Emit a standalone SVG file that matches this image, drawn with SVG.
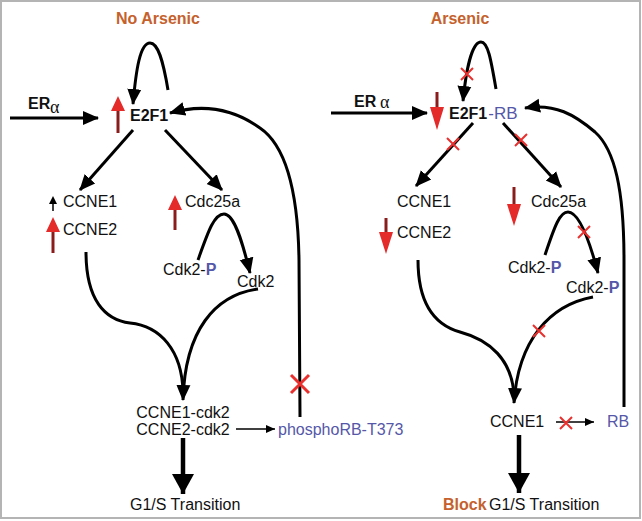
<svg xmlns="http://www.w3.org/2000/svg" width="642" height="521" viewBox="0 0 642 521">
<defs>
<style>
.t{font-family:"Liberation Sans",Arial,sans-serif;font-size:16px;fill:#111}
.b{font-weight:bold}
.o{fill:#c5612c;font-weight:bold}
.bl{fill:#5557a8}
.al{font-family:"Liberation Serif","Times New Roman",serif;font-size:18px;fill:#111}
.c{fill:none;stroke:#000;stroke-width:3}
.thin{fill:none;stroke:#000;stroke-width:1.6}
.thick{fill:none;stroke:#000;stroke-width:4.5}
.x{stroke:#e8312f;stroke-width:2;fill:none}
.sh{stroke:#8b1c1c;stroke-width:3}
.hd{fill:#e52a2a}
</style>
<marker id="ah" markerUnits="userSpaceOnUse" markerWidth="16" markerHeight="16" refX="15" refY="8" orient="auto" viewBox="0 0 16 16">
<path d="M0,1 L16,8 L0,15 Z" fill="#000"/>
</marker>
<marker id="sm" markerUnits="userSpaceOnUse" markerWidth="9" markerHeight="8" refX="9" refY="4" orient="auto" viewBox="0 0 9 8">
<path d="M0,0 L9,4 L0,8 Z" fill="#000"/>
</marker>
<marker id="big" markerUnits="userSpaceOnUse" markerWidth="20" markerHeight="22" refX="20" refY="11" orient="auto" viewBox="0 0 20 22">
<path d="M0,0 L20,11 L0,22 Z" fill="#000"/>
</marker>
</defs>
<rect x="1" y="1" width="639" height="517" fill="#fff" stroke="#b4b4b4" stroke-width="2"/>

<g id="connectors">
<!-- left -->
<path class="c" d="M168,90 C163,60 158,43 150,43 C140,43 136,70 133,104" marker-end="url(#ah)"/>
<path class="c" d="M10,118 L98,118" marker-end="url(#ah)"/>
<path class="c" d="M300,417 L299,260 C298,190 285,145 260,128 C235,110 205,103 170,113" marker-end="url(#ah)"/>
<path class="c" d="M133,130 L80,190" marker-end="url(#ah)"/>
<path class="c" d="M165,130 L222,190" marker-end="url(#ah)"/>
<path class="c" d="M198,260 C208,232 214,214 224,214 C234,214 242,240 250,273" marker-end="url(#ah)"/>
<path class="c" d="M86,252 C86,300 105,320 130,323 C160,326 182,350 183,392"/>
<path class="c" d="M258,289 C215,295 185,330 183,400" marker-end="url(#ah)"/>
<path class="thin" d="M236,429 L275,429" marker-end="url(#sm)"/>
<path class="thick" d="M183,438 L183,494" marker-end="url(#big)"/>
<!-- right -->
<path class="c" d="M496,89 C491,60 488,42 481,42 C472,42 466,70 463,101" marker-end="url(#ah)"/>
<path class="c" d="M331,113 L427,113" marker-end="url(#ah)"/>
<path class="c" d="M624,407 L624,260 C624,190 615,150 595,132 C575,115 555,103 525,108" marker-end="url(#ah)"/>
<path class="c" d="M473,123 L416,186" marker-end="url(#ah)"/>
<path class="c" d="M503,123 L561,187" marker-end="url(#ah)"/>
<path class="c" d="M545,255 C555,225 560,212 568,212 C578,212 588,235 598,273" marker-end="url(#ah)"/>
<path class="c" d="M418,260 C418,305 435,325 460,332 C490,340 512,360 514,395"/>
<path class="c" d="M593,297 C550,305 518,340 514,403" marker-end="url(#ah)"/>
<path class="thin" d="M556,422 L594,422" marker-end="url(#sm)"/>
<path class="thick" d="M519,435 L519,493" marker-end="url(#big)"/>
<!-- red X marks -->
<path class="x" style="stroke-width:3" d="M291,375 L309,393 M309,375 L291,393"/>
<path class="x" d="M461,68 L473,80 M473,68 L461,80"/>
<path class="x" d="M447,138 L459,150 M459,138 L447,150"/>
<path class="x" d="M515,134 L527,146 M527,134 L515,146"/>
<path class="x" d="M578,226 L590,238 M590,226 L578,238"/>
<path class="x" d="M533,325 L545,337 M545,325 L533,337"/>
<path class="x" d="M560,417 L572,429 M572,417 L560,429"/>
</g>

<g id="title-left"><text class="t o" x="158" y="24" text-anchor="middle">No Arsenic</text></g>
<g id="title-right"><text class="t o" x="460" y="24" text-anchor="middle">Arsenic</text></g>

<g id="era-left"><text class="t b" x="28" y="109" font-size="15">ER</text><text class="al" x="50" y="113">α</text></g>
<g id="era-right"><text class="t b" x="354" y="107" font-size="15">ER</text><text class="al" x="380" y="108">α</text></g>

<g id="e2f1-left">
<line class="sh" x1="118" y1="109" x2="118" y2="133"/>
<polygon class="hd" points="111,111 118,96 125,111"/>
<text class="t b" x="130" y="121">E2F1</text>
</g>
<g id="e2f1-rb-right">
<line class="sh" x1="437" y1="92" x2="437" y2="109"/>
<polygon class="hd" points="430,107 437,130 444,107"/>
<text class="t b" x="449" y="119">E2F1<tspan class="bl" style="font-weight:normal;font-size:17px" dx="1">-RB</tspan></text>
</g>

<g id="ccne1-left">
<line x1="53" y1="202" x2="53" y2="211" stroke="#000" stroke-width="1.5"/>
<polygon points="49,204 53,196 57,204" fill="#000"/>
<text class="t" x="63" y="207">CCNE1</text>
</g>
<g id="ccne2-left">
<line class="sh" x1="53" y1="230" x2="53" y2="253"/>
<polygon class="hd" points="46,232 53,217 60,232"/>
<text class="t" x="63" y="235">CCNE2</text>
</g>
<g id="cdc25a-left">
<line class="sh" x1="175" y1="208" x2="175" y2="230"/>
<polygon class="hd" points="168,210 175,195 182,210"/>
<text class="t" x="185" y="207">Cdc25a</text>
</g>
<g id="cdk2p-left"><text class="t" x="163" y="275">Cdk2-<tspan class="bl b">P</tspan></text></g>
<g id="cdk2-left"><text class="t" x="237" y="287">Cdk2</text></g>
<g id="complex-left"><text class="t" x="183" y="418" text-anchor="middle">CCNE1-cdk2</text><text class="t" x="183" y="435" text-anchor="middle">CCNE2-cdk2</text></g>
<g id="phosphorb"><text class="t bl" x="278" y="435">phosphoRB-T373</text></g>
<g id="g1s-left"><text class="t" x="130" y="510">G1/S Transition</text></g>

<g id="ccne1-right"><text class="t" x="397" y="207">CCNE1</text></g>
<g id="ccne2-right">
<line class="sh" x1="386" y1="218" x2="386" y2="234"/>
<polygon class="hd" points="379,232 386,254 393,232"/>
<text class="t" x="397" y="238">CCNE2</text>
</g>
<g id="cdc25a-right">
<line class="sh" x1="514" y1="187" x2="514" y2="206"/>
<polygon class="hd" points="507,204 514,226 521,204"/>
<text class="t" x="531" y="207">Cdc25a</text>
</g>
<g id="cdk2p-right-1"><text class="t" x="508" y="273">Cdk2-<tspan class="bl b">P</tspan></text></g>
<g id="cdk2p-right-2"><text class="t" x="566" y="293">Cdk2-<tspan class="bl b">P</tspan></text></g>
<g id="ccne1-complex-right"><text class="t" x="490" y="427">CCNE1</text></g>
<g id="rb-right"><text class="t bl" x="607" y="427" font-size="18">RB</text></g>
<g id="g1s-right"><text class="t o" x="443" y="510">Block</text><text class="t" x="489" y="510">G1/S Transition</text></g>
</svg>
